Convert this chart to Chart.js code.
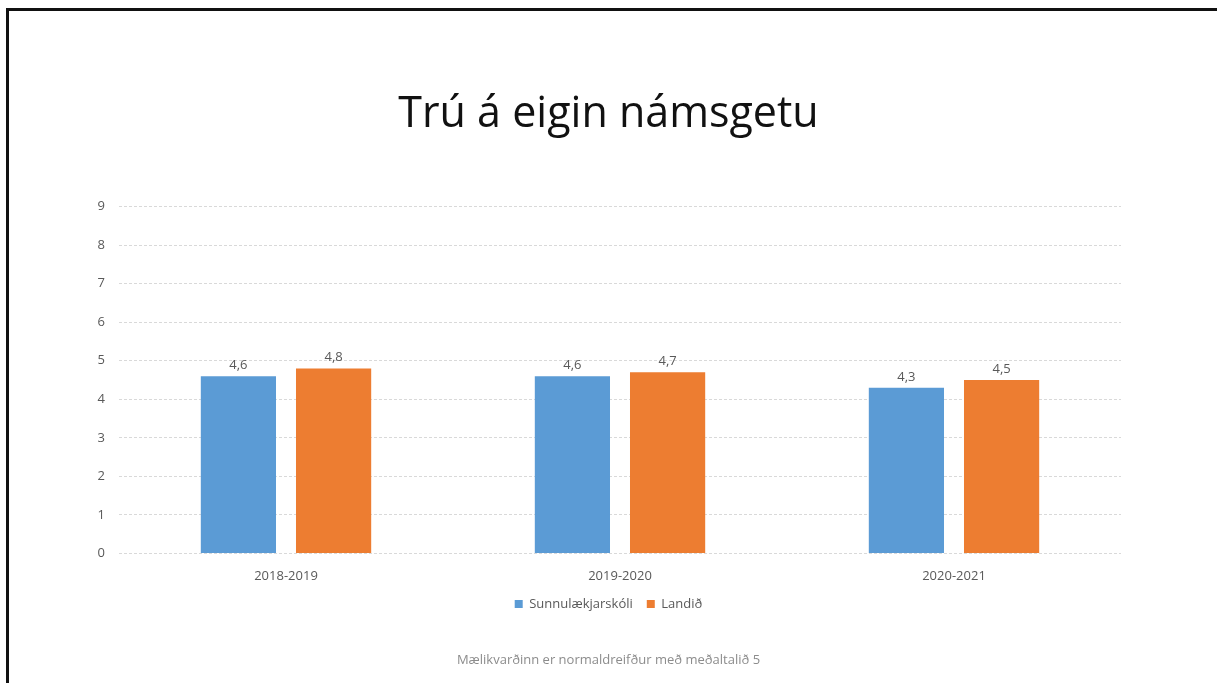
<!DOCTYPE html>
<html>
<head>
<meta charset="utf-8">
<script src="https://cdn.jsdelivr.net/npm/chart.js@4.4.0/dist/chart.umd.min.js"></script>
<style>
  html, body { margin: 0; padding: 0; background: #fff; }
  #wrap { position: relative; width: 1217px; height: 683px; overflow: hidden; }
  #frame { position: absolute; left: 6px; top: 8px; right: -10px; bottom: -10px;
           border-top: 3px solid #111; border-left: 3px solid #111; }
  canvas { position: absolute; left: 0; top: 0; }
</style>
</head>
<body>
<div id="wrap">
  <div id="frame"></div>
  <canvas id="myChart" width="1217" height="683"></canvas>
</div>
<script>
// gögn lesin af myndinni
const years = ['2018-2019', '2019-2020', '2020-2021'];
const skoli = [4.6, 4.6, 4.3];
const landid = [4.8, 4.7, 4.5];
const yTicks = [0, 1, 2, 3, 4, 5, 6, 7, 8, 9];

const textGray = '#595959';
const fam = '"Open Sans", sans-serif';

// teiknar gildin fyrir ofan súlurnar (4,6 o.s.frv.)
const valueLabels = {
    id: 'valueLabels',
    afterDatasetsDraw(chart) {
        const ctx = chart.ctx;
        ctx.save();
        ctx.font = '13px ' + fam;
        ctx.fillStyle = textGray;
        ctx.textAlign = 'center';
        ctx.textBaseline = 'alphabetic';
        chart.data.datasets.forEach((ds, i) => {
            chart.getDatasetMeta(i).data.forEach((bar, j) => {
                const txt = ds.data[j].toFixed(1).replace('.', ',');
                ctx.fillText(txt, bar.x, bar.y - 7);
            });
        });
        ctx.restore();
    }
};

const myChart = new Chart(document.getElementById('myChart'), {
    type: 'bar',
    data: {
        labels: years,
        datasets: [{
            label: 'Sunnulækjarskóli',
            data: skoli,
            backgroundColor: '#5B9BD5',
            barPercentage: 0.79,
            categoryPercentage: 0.57
        }, {
            label: 'Landið',
            data: landid,
            backgroundColor: '#ED7D31',
            barPercentage: 0.79,
            categoryPercentage: 0.57
        }]
    },
    options: {
        responsive: false,
        animation: false,
        layout: {
            padding: { left: 96, right: 96, top: 0, bottom: 0 }
        },
        scales: {
            x: {
                afterFit: (s) => { s.height = 30; },
                grid: { display: false, drawTicks: false },
                border: { display: false },
                ticks: {
                    color: textGray,
                    font: { family: fam, size: 13 },
                    padding: 15
                }
            },
            y: {
                min: 0,
                max: 9,
                afterFit: (s) => { s.width = 23; },
                afterBuildTicks: (s) => { s.ticks = yTicks.map(v => ({ value: v })); },
                grid: { color: '#d9d9d9', drawTicks: false },
                border: { display: false, dash: [3, 2] },
                ticks: {
                    color: textGray,
                    font: { family: fam, size: 13 },
                    padding: 14
                }
            }
        },
        plugins: {
            title: {
                display: true,
                text: 'Trú á eigin námsgetu',
                color: '#111',
                font: { family: fam, size: 43, weight: 'normal' },
                padding: { top: 89, bottom: 66 }
            },
            legend: {
                position: 'bottom',
                labels: {
                    boxWidth: 8,
                    boxHeight: 8,
                    padding: 14,
                    color: textGray,
                    font: { family: fam, size: 13 }
                }
            },
            subtitle: {
                display: true,
                position: 'bottom',
                text: 'Mælikvarðinn er normaldreifður með meðaltalið 5',
                color: '#8c8c8c',
                font: { family: fam, size: 13 },
                padding: { top: 32, bottom: 15 }
            },
            tooltip: { enabled: false }
        }
    },
    plugins: [valueLabels]
});
</script>
</body>
</html>
